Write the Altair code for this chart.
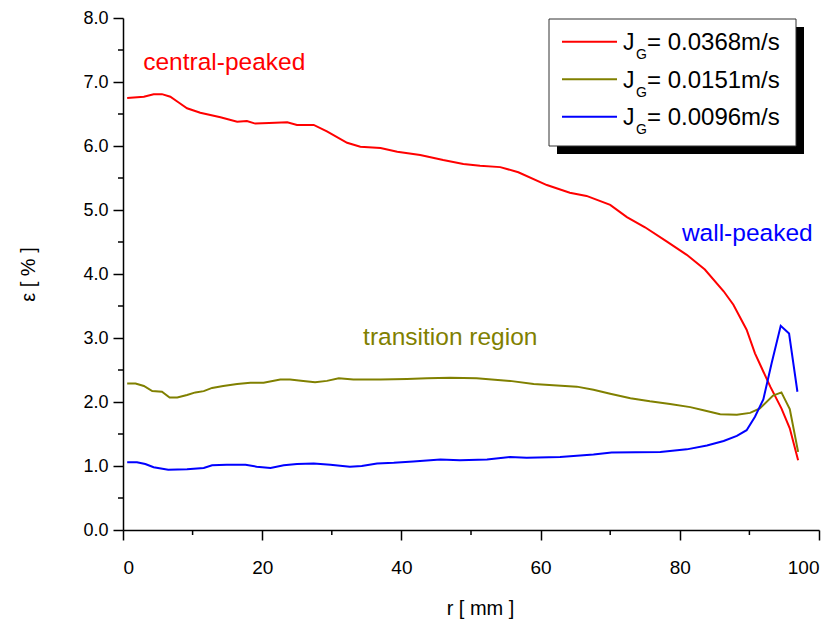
import altair as alt
import pandas as pd

# ---- data ----
series_names = ["0.0368", "0.0151", "0.0096"]
series_colors = ["#FF0000", "#808000", "#0000FF"]

r_red = [0.6, 3.0, 4.4, 5.6, 6.8, 8.0, 9.2, 11.1, 14.0, 16.4, 17.8, 19.0, 21.0, 23.6, 25.0,
         27.4, 29.3, 32.2, 34.1, 37.0, 39.4, 42.7, 46.0, 48.9, 51.3, 54.2, 56.8, 60.9, 64.2,
         66.6, 70.0, 72.4, 75.0, 78.1, 81.0, 83.6, 86.3, 87.7, 89.6, 90.8, 93.0, 94.6, 95.8, 97.0]
eps_red = [6.75, 6.77, 6.81, 6.81, 6.77, 6.68, 6.59, 6.52, 6.45, 6.38, 6.39, 6.35, 6.36, 6.37, 6.33,
           6.33, 6.23, 6.05, 5.99, 5.97, 5.91, 5.86, 5.78, 5.72, 5.69, 5.67, 5.59, 5.39, 5.27,
           5.22, 5.08, 4.89, 4.73, 4.51, 4.30, 4.07, 3.73, 3.52, 3.13, 2.76, 2.24, 1.90, 1.59, 1.09]

r_olive = [0.6, 1.8, 3.0, 4.2, 5.6, 6.7, 7.8, 9.2, 10.4, 11.6, 12.8, 14.4, 16.4, 18.3, 20.2,
           22.6, 24.0, 25.9, 27.6, 29.3, 31.0, 33.1, 37.0, 40.8, 43.7, 47.0, 50.8, 55.6, 59.0,
           65.2, 67.6, 70.0, 72.9, 75.7, 78.6, 81.5, 83.4, 85.8, 88.2, 90.1, 91.5, 93.4, 94.6,
           95.8, 97.0]
eps_olive = [2.29, 2.29, 2.25, 2.17, 2.16, 2.07, 2.07, 2.11, 2.15, 2.17, 2.22, 2.25, 2.28, 2.30, 2.30,
             2.35, 2.35, 2.33, 2.31, 2.33, 2.37, 2.35, 2.35, 2.36, 2.37, 2.38, 2.37, 2.33, 2.28,
             2.24, 2.19, 2.13, 2.06, 2.01, 1.97, 1.92, 1.87, 1.81, 1.80, 1.83, 1.90, 2.10, 2.15,
             1.89, 1.22]

r_blue = [0.6, 2.0, 3.2, 4.4, 6.5, 9.2, 11.6, 12.8, 14.9, 17.6, 19.2, 21.2, 23.1, 25.0, 27.4,
          29.8, 32.6, 34.3, 36.5, 38.9, 41.7, 45.6, 48.4, 52.3, 55.6, 58.0, 62.8, 67.6, 70.2,
          77.2, 81.0, 83.9, 86.3, 88.2, 89.6, 90.8, 92.0, 93.2, 94.5, 95.7, 96.9]
eps_blue = [1.06, 1.06, 1.03, 0.98, 0.94, 0.95, 0.97, 1.01, 1.02, 1.02, 0.99, 0.97, 1.01, 1.03, 1.04,
            1.02, 0.99, 1.00, 1.04, 1.05, 1.07, 1.10, 1.09, 1.10, 1.14, 1.13, 1.14, 1.18, 1.21,
            1.22, 1.26, 1.32, 1.39, 1.47, 1.56, 1.77, 2.04, 2.61, 3.19, 3.07, 2.16]

x_major = [0, 20, 40, 60, 80, 100]
x_minor = [10, 30, 50, 70, 90]
y_major = [0, 1, 2, 3, 4, 5, 6, 7, 8]
y_minor = [0.5, 1.5, 2.5, 3.5, 4.5, 5.5, 6.5, 7.5]

ann_text = ["central-peaked", "transition region", "wall-peaked"]
ann_r = [2.9, 34.5, 80.3]
ann_eps = [7.30, 3.00, 4.63]

# ---- build tables ----
rows = []
for name, rs, es in [(series_names[0], r_red, eps_red),
                     (series_names[1], r_olive, eps_olive),
                     (series_names[2], r_blue, eps_blue)]:
    for rv, ev in zip(rs, es):
        rows.append({"series": name, "r": rv, "eps": ev})
df = pd.DataFrame(rows)

W, H = 696, 512
FONT = "Liberation Sans"

xscale = alt.Scale(domain=[0, 100], nice=False, zero=False)
yscale = alt.Scale(domain=[0, 8], nice=False, zero=False)
cscale = alt.Scale(domain=series_names, range=series_colors)

lines = alt.Chart(df).mark_line(strokeWidth=2, clip=False).encode(
    x=alt.X("r:Q", scale=xscale,
            axis=alt.Axis(values=x_major, format="d", tickSize=10, tickWidth=1.5,
                          domainWidth=1.5, domainColor="black", tickColor="black",
                          labelFontSize=19, labelPadding=18, labelColor="black", labelFont=FONT,
                          title="r [ mm ]", titleFont=FONT, titleFontSize=20, titleFontWeight="normal",
                          titleColor="black", titleX=357, titleY=78, titleBaseline="middle",
                          titleAnchor="start", titleAlign="center", grid=False)),
    y=alt.Y("eps:Q", scale=yscale,
            axis=alt.Axis(values=y_major, format=".1f", tickSize=10, tickWidth=1.5,
                          domainWidth=1.5, domainColor="black", tickColor="black",
                          labelFontSize=18, labelPadding=5, labelColor="black", labelFont=FONT,
                          title="ε [ % ]", titleFont=FONT, titleFontSize=20, titleFontWeight="normal",
                          titleColor="black", titleX=-95, titleY=256, titleAngle=270,
                          titleBaseline="middle", titleAlign="center", titleAnchor="start",
                          grid=False)),
    color=alt.Color("series:N", scale=cscale, legend=None),
)

xm = alt.Chart(pd.DataFrame({"v": x_minor})).mark_rule(color="black", strokeWidth=1.5).encode(
    x=alt.X("v:Q", scale=xscale), y=alt.value(H), y2=alt.value(H + 5))
ym = alt.Chart(pd.DataFrame({"v": y_minor})).mark_rule(color="black", strokeWidth=1.5).encode(
    y=alt.Y("v:Q", scale=yscale), x=alt.value(0), x2=alt.value(-5))

ann = alt.Chart(pd.DataFrame({"t": ann_text, "r": ann_r, "eps": ann_eps, "series": series_names})).mark_text(
    align="left", baseline="middle", fontSize=24.5, font=FONT).encode(
    x=alt.X("r:Q", scale=xscale), y=alt.Y("eps:Q", scale=yscale), text="t:N",
    color=alt.Color("series:N", scale=cscale, legend=None))

# ---- legend (manual, for the subscript) ----
LX0, LY0, LX1, LY1 = 426, 1, 673, 128
one = pd.DataFrame({"a": [0]})
shadow = alt.Chart(one).mark_rect(color="black").encode(
    x=alt.value(LX0 + 8), x2=alt.value(LX1 + 8), y=alt.value(LY0 + 8), y2=alt.value(LY1 + 8))
box = alt.Chart(one).mark_rect(fill="white", stroke="#333333", strokeWidth=1).encode(
    x=alt.value(LX0), x2=alt.value(LX1), y=alt.value(LY0), y2=alt.value(LY1))

leg = pd.DataFrame({
    "series": series_names,
    "label": ["= " + s + "m/s" for s in series_names],
    "py": [23.7 + 37.5 * i for i in range(len(series_names))],
})
leg["base"] = leg["py"] + 8.5
leg["sub"] = leg["py"] + 17.5
leg_lines = alt.Chart(leg).mark_rule(strokeWidth=2).encode(
    x=alt.value(439), x2=alt.value(494), y=alt.Y("py:Q", scale=None),
    color=alt.Color("series:N", scale=cscale, legend=None))
leg_J = alt.Chart(leg).mark_text(align="left", baseline="alphabetic", fontSize=23, font=FONT,
                                 color="black", text="J").encode(
    x=alt.value(500), y=alt.Y("base:Q", scale=None))
leg_G = alt.Chart(leg).mark_text(align="left", baseline="alphabetic", fontSize=14, font=FONT,
                                 color="black", text="G").encode(
    x=alt.value(513), y=alt.Y("sub:Q", scale=None))
leg_T = alt.Chart(leg).mark_text(align="left", baseline="alphabetic", fontSize=24, font=FONT,
                                 color="black").encode(
    x=alt.value(524), y=alt.Y("base:Q", scale=None), text="label:N")

chart = alt.layer(lines, xm, ym, ann, shadow, box, leg_lines, leg_J, leg_G, leg_T).properties(
    width=W, height=H,
    autosize=alt.AutoSizeParams(type="none"),
    padding={"left": 123, "top": 18, "right": 20, "bottom": 101},
    background="white",
).configure_view(stroke=None)

chart.save("out.html", embed_options={"renderer": "svg", "actions": False})
